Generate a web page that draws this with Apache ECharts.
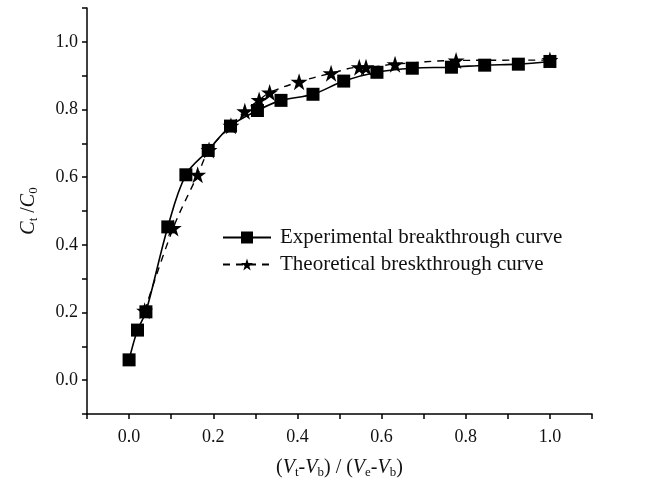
<!DOCTYPE html>
<html>
<head>
<meta charset="utf-8">
<script src="https://cdn.jsdelivr.net/npm/echarts@6/dist/echarts.min.js"></script>
<style>
html,body{margin:0;padding:0;background:#fff;}
#chart{width:646px;height:485px;}
</style>
</head>
<body>
<div id="chart"></div>
<script>
// Experimental breakthrough curve
const expX = [0.0, 0.02, 0.04, 0.092, 0.135, 0.188, 0.241, 0.305, 0.361, 0.437, 0.51, 0.589, 0.673, 0.766, 0.845, 0.925, 1.0];
const expY = [0.06, 0.148, 0.202, 0.453, 0.607, 0.679, 0.751, 0.797, 0.827, 0.845, 0.884, 0.910, 0.922, 0.925, 0.931, 0.934, 0.942];
// Theoretical breakthrough curve
const thX = [0.037, 0.105, 0.163, 0.19, 0.242, 0.275, 0.309, 0.334, 0.404, 0.48, 0.547, 0.563, 0.632, 0.777, 1.0];
const thY = [0.205, 0.45, 0.607, 0.68, 0.752, 0.795, 0.828, 0.850, 0.882, 0.907, 0.925, 0.925, 0.934, 0.945, 0.946];
const seriesNames = ['Experimental breakthrough curve', 'Theoretical breskthrough curve'];
const tickLabels = ['0.0', '0.2', '0.4', '0.6', '0.8', '1.0'];

const FONT = '"Liberation Serif", "Times New Roman", serif';
const STAR = 'path://M50,0 L61.8,36.2 L100,36.2 L69.1,58.6 L80.9,95 L50,72.6 L19.1,95 L30.9,58.6 L0,36.2 L38.2,36.2 Z';

function fmt(v) {
  const s = (Math.round(v * 10) / 10).toFixed(1);
  return tickLabels.indexOf(s) >= 0 && Math.round(v * 10) % 2 === 0 ? s : '';
}

const chart = echarts.init(document.getElementById('chart'), null, {renderer: 'canvas'});
const axisCommon = {
  type: 'value',
  min: -0.1,
  max: 1.1,
  interval: 0.1,
  splitLine: {show: false},
  axisLine: {show: true, onZero: false, lineStyle: {color: '#000', width: 1.5}},
  axisTick: {show: true, inside: false, length: 5, lineStyle: {color: '#000', width: 1.5}},
  axisLabel: {color: '#111', fontFamily: FONT, fontSize: 18, formatter: fmt, showMinLabel: true, showMaxLabel: true},
  nameLocation: 'middle',
  nameTextStyle: {color: '#111', fontFamily: FONT, fontSize: 18}
};
const sub = {fontFamily: FONT, fontSize: 13, color: '#111', verticalAlign: 'bottom', lineHeight: 6};
const ital = {fontFamily: FONT, fontSize: 20, fontStyle: 'italic', color: '#111', lineHeight: 22};
const norm = {fontFamily: FONT, fontSize: 20, color: '#111', lineHeight: 22};

chart.setOption({
  animation: false,
  backgroundColor: '#fff',
  grid: {left: 87, right: 54, top: 8, bottom: 71, containLabel: false},
  xAxis: Object.assign({}, axisCommon, {
    name: '{n|(}{i|V}{s|t}{n|-}{i|V}{s|b}{n|) / (}{i|V}{s|e}{n|-}{i|V}{s|b}{n|)}',
    nameGap: 43,
    axisLabel: Object.assign({}, axisCommon.axisLabel, {margin: 14}),
    nameTextStyle: {rich: {i: ital, s: sub, n: norm}}
  }),
  yAxis: Object.assign({}, axisCommon, {
    name: '{i|C}{s|t}{n| /}{i|C}{s|0}',
    nameGap: 47,
    axisLabel: Object.assign({}, axisCommon.axisLabel, {margin: 9}),
    nameTextStyle: {rich: {i: ital, s: sub, n: norm}}
  }),
  legend: {
    show: true,
    orient: 'vertical',
    left: 217,
    top: 222,
    itemWidth: 48,
    itemHeight: 15,
    itemGap: 6,
    data: seriesNames,
    textStyle: {fontFamily: FONT, fontSize: 21, lineHeight: 21, color: '#111', padding: [0, 0, 0, 4]}
  },
  series: [
    {
      name: seriesNames[0],
      type: 'line',
      smooth: 0.35,
      data: expX.map((x, i) => [x, expY[i]]),
      symbol: 'rect',
      symbolSize: 13,
      itemStyle: {color: '#000'},
      lineStyle: {color: '#000', width: 1.6, type: 'solid'},
      z: 3
    },
    {
      name: seriesNames[1],
      type: 'line',
      smooth: 0.35,
      data: thX.map((x, i) => [x, thY[i]]),
      symbol: STAR,
      symbolSize: 17,
      itemStyle: {color: '#000'},
      lineStyle: {color: '#000', width: 1.4, type: [7, 6]},
      z: 2
    }
  ]
});
</script>
</body>
</html>
